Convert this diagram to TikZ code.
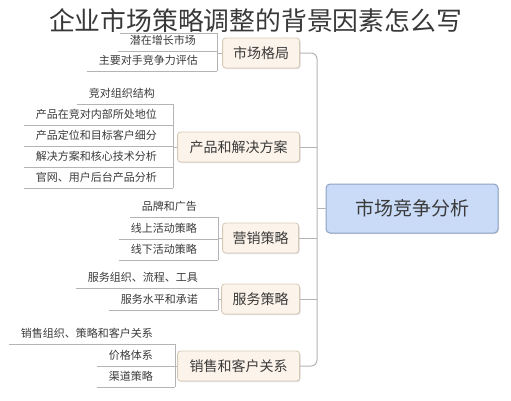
\documentclass[tikz,border=0pt]{standalone}
\usepackage{fontspec}
\usetikzlibrary{shadows}
\setmainfont{Noto Sans CJK SC}
\definecolor{linegray}{HTML}{B4B4B4}
\definecolor{textgray}{HTML}{3A3A3A}
\definecolor{topicfill}{HTML}{FCF4EA}
\definecolor{topicborder}{HTML}{D6C8B6}
\definecolor{centralfill}{HTML}{C9DBF7}
\definecolor{centralborder}{HTML}{8EA2C4}
\begin{document}
\begin{tikzpicture}[x=1pt,y=-1pt,
  ln/.style={draw=linegray, line width=1pt},
  leaf/.style={font=\fontsize{11}{13}\selectfont, text=textgray, inner xsep=12pt, inner ysep=4pt, text height=8.5pt, text depth=2.5pt, anchor=south east},
  topic/.style={draw=topicborder, fill=topicfill, rounded corners=3pt, line width=0.8pt, minimum height=30pt, inner sep=0pt, anchor=east, font=\fontsize{14}{16}\selectfont, text=textgray, drop shadow={shadow xshift=1pt, shadow yshift=-1pt, fill=black!12, opacity=1}},
  central/.style={draw=centralborder, fill=centralfill, rounded corners=4pt, line width=1pt, minimum width=172pt, minimum height=49pt, inner sep=0pt, font=\fontsize{19}{21}\selectfont, text=textgray, drop shadow={shadow xshift=1pt, shadow yshift=-1pt, fill=black!12, opacity=1}}]
\useasboundingbox (0,0) rectangle (511,400);

% central topic
\node[central] (c) at (412,208.5) {市场竞争分析};

% main topics
\node[topic, minimum width=77pt] (p1) at (300,53) {市场格局};
\node[topic, minimum width=122pt] (p2) at (300,147) {产品和解决方案};
\node[topic, minimum width=76pt] (p3) at (299,238) {营销策略};
\node[topic, minimum width=78pt] (p4) at (300,299) {服务策略};
\node[topic, minimum width=122pt] (p5) at (300,366) {销售和客户关系};

% main trunk
\coordinate (tm) at (317,200);
\draw[ln, rounded corners=6pt] (p1.east) -| (tm) |- (p5.east);
\draw[ln] (p2.east) -- (p2.east -| tm);
\draw[ln] (p3.east) -- (p3.east -| tm);
\draw[ln] (p4.east) -- (p4.east -| tm);
\draw[ln] (c.west) -- (c.west -| tm);

% group 1: 市场格局
\coordinate (t1) at (217,0);
\coordinate (h0) at (120,33);
\node[leaf] (a1) at (208,51) {潜在增长市场};
\node[leaf] (a2) at (210,71) {主要对手竞争力评估};
\draw[ln] (h0) -- (h0 -| t1);
\draw[ln] (a1.south west) -- (a1.south west -| t1);
\draw[ln] (a2.south west) -- (a2.south west -| t1);
\draw[ln] (h0 -| t1) -- (a2.south west -| t1);
\draw[ln] (p1.west) -- (p1.west -| t1);

% group 2: 产品和解决方案
\coordinate (t2) at (173,0);
\node[leaf] (b1) at (167,104) {竞对组织结构};
\node[leaf] (b2) at (169,125) {产品在竞对内部所处地位};
\node[leaf] (b3) at (169,146) {产品定位和目标客户细分};
\node[leaf] (b4) at (169,167) {解决方案和核心技术分析};
\node[leaf] (b5) at (169,188) {官网、用户后台产品分析};
\foreach \n in {b1,b2,b3,b4,b5}{\draw[ln] (\n.south west) -- (\n.south west -| t2);}
\draw[ln] (b1.south west -| t2) -- (b5.south west -| t2);
\draw[ln] (p2.west) -- (p2.west -| t2);

% group 3: 营销策略
\coordinate (t3) at (218,0);
\node[leaf] (m1) at (209,217) {品牌和广告};
\node[leaf] (m2) at (209,239) {线上活动策略};
\node[leaf] (m3) at (209,260) {线下活动策略};
\foreach \n in {m1,m2,m3}{\draw[ln] (\n.south west) -- (\n.south west -| t3);}
\draw[ln] (m1.south west -| t3) -- (m3.south west -| t3);
\draw[ln] (p3.west) -- (p3.west -| t3);

% group 4: 服务策略
\coordinate (t4) at (218,0);
\node[leaf] (s1) at (210,288) {服务组织、流程、工具};
\node[leaf] (s2) at (210,310) {服务水平和承诺};
\foreach \n in {s1,s2}{\draw[ln] (\n.south west) -- (\n.south west -| t4);}
\draw[ln] (s1.south west -| t4) -- (s2.south west -| t4);
\draw[ln] (p4.west) -- (p4.west -| t4);

% group 5: 销售和客户关系
\coordinate (t5) at (175,0);
\node[leaf] (r1) at (165,344) {销售组织、策略和客户关系};
\node[leaf] (r2) at (165,366) {价格体系};
\node[leaf] (r3) at (165,387) {渠道策略};
\foreach \n in {r1,r2,r3}{\draw[ln] (\n.south west) -- (\n.south west -| t5);}
\draw[ln] (r1.south west -| t5) -- (r3.south west -| t5);
\draw[ln] (p5.west) -- (p5.west -| t5);

% title
\node[font=\fontsize{25.8}{28}\selectfont, text=black!78, inner sep=0pt] (title) at (255.5,21) {企业市场策略调整的背景因素怎么写};
\end{tikzpicture}
\end{document}
